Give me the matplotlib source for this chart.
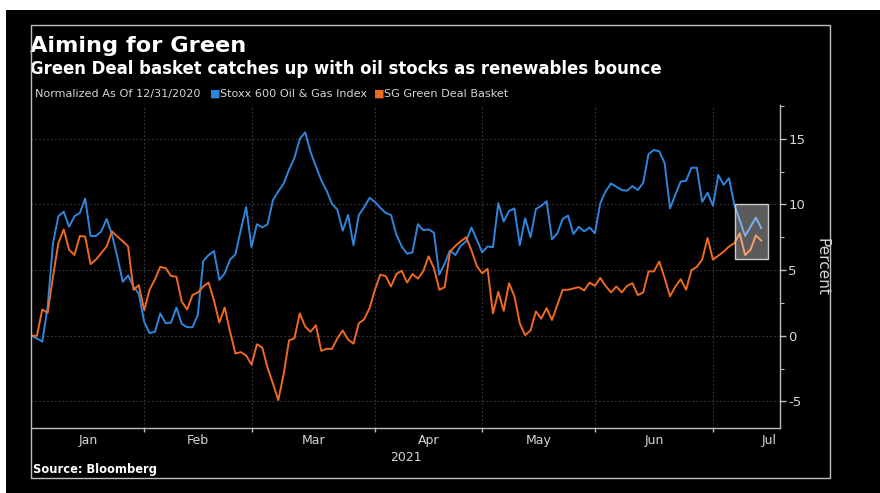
import matplotlib
matplotlib.use('Agg')
import matplotlib.pyplot as plt
from matplotlib.patches import Rectangle
import numpy as np

# ---------------- data (trading days from 12/31/2020) ----------------
stoxx = [0.0, -0.2, -0.45, 2.2, 7.05, 9.1, 9.45, 8.3, 9.1, 9.35,
         10.45, 7.6, 7.6, 7.95, 8.9, 7.7, 6.0, 4.1, 4.6, 3.75,
         3.2, 1.05, 0.2, 0.3, 1.7, 0.95, 1.0, 2.15, 0.9, 0.65,
         0.65, 1.6, 5.7, 6.15, 6.45, 4.25, 4.75, 5.8, 6.2, 8.05,
         9.8, 6.75, 8.5, 8.25, 8.5, 10.35, 11.0, 11.6, 12.65, 13.55,
         15.0, 15.5, 14.0, 12.9, 11.85, 11.05, 10.05, 9.6, 8.0, 9.2,
         6.9, 9.2, 9.8, 10.5, 10.2, 9.75, 9.35, 9.2, 7.7, 6.8,
         6.25, 6.35, 8.5, 8.05, 8.1, 7.85, 4.65, 5.5, 6.5, 6.15,
         6.85, 7.2, 8.25, 7.3, 6.35, 6.8, 6.75, 10.1, 8.7, 9.5,
         9.7, 6.9, 8.95, 7.5, 9.65, 9.9, 10.25, 7.35, 7.8, 8.9,
         9.15, 7.75, 8.3, 7.95, 8.25, 7.8, 10.1, 11.0, 11.6, 11.35,
         11.1, 11.05, 11.4, 11.1, 11.65, 13.85, 14.15, 14.05, 13.15, 9.7,
         10.75, 11.75, 11.8, 12.8, 12.8, 10.2, 10.9, 9.9, 12.25, 11.5,
         12.0, 9.95, 8.8, 7.6, 8.3, 9.0, 8.2]

green = [0.0, 0.0, 2.0, 1.75, 4.5, 7.05, 8.1, 6.55, 6.15, 7.6,
         7.55, 5.45, 5.8, 6.3, 6.8, 7.95, 7.55, 7.2, 6.8, 3.5,
         3.85, 1.95, 3.5, 4.3, 5.25, 5.15, 4.55, 4.5, 2.6, 2.0,
         3.1, 3.3, 3.75, 4.05, 2.7, 1.0, 2.15, 0.3, -1.35, -1.25,
         -1.5, -2.2, -0.65, -0.9, -2.45, -3.65, -4.9, -2.9, -0.35, -0.2,
         1.7, 0.7, 0.3, 0.8, -1.15, -1.0, -1.0, -0.2, 0.4, -0.3,
         -0.6, 0.95, 1.25, 2.1, 3.5, 4.65, 4.55, 3.75, 4.7, 4.95,
         4.05, 4.7, 4.35, 4.9, 6.05, 5.15, 3.5, 3.7, 6.4, 6.85,
         7.2, 7.5, 6.5, 5.3, 4.75, 5.1, 1.7, 3.35, 1.9, 4.0,
         3.0, 0.95, 0.05, 0.4, 1.85, 1.3, 2.1, 1.2, 2.35, 3.5,
         3.5, 3.6, 3.7, 3.45, 4.05, 3.8, 4.4, 3.8, 3.3, 3.75,
         3.3, 3.8, 4.0, 3.1, 3.3, 4.9, 4.9, 5.65, 4.4, 3.0,
         3.75, 4.3, 3.5, 5.0, 5.25, 5.8, 7.45, 5.8, 6.1, 6.4,
         6.8, 7.05, 7.8, 6.15, 6.55, 7.65, 7.25]

month_names = ['Jan', 'Feb', 'Mar', 'Apr', 'May', 'Jun', 'Jul']
month_starts = [0, 21, 41, 64, 84, 105, 127, 148]   # trading-day index of each month start
y_ticks = [-5, 0, 5, 10, 15]
y_minor = [-2.5, 2.5, 7.5, 12.5, 17.5]
highlight_first = 131          # first highlighted trading day
highlight_y = (5.85, 10.0)     # highlight box value range

series_names = ['Stoxx 600 Oil & Gas Index', 'SG Green Deal Basket']
colors = ['#2f86dc', '#ee6a22']

# ---------------- figure ----------------
W, H = 880, 493
fig = plt.figure(figsize=(W / 100, H / 100), dpi=100, facecolor='black')


def fx(px):
    return px / W


def fy(py):
    return 1 - py / H


# white margins at top and left of the screenshot
fig.patches.append(Rectangle((0, fy(10)), 1, 1 - fy(10), transform=fig.transFigure,
                             facecolor='white', edgecolor='none', zorder=-10))
fig.patches.append(Rectangle((0, 0), fx(6), 1, transform=fig.transFigure,
                             facecolor='white', edgecolor='none', zorder=-10))
# inner frame
fig.patches.append(Rectangle((fx(31), fy(478)), fx(830) - fx(31), fy(25) - fy(478),
                             transform=fig.transFigure, facecolor='none',
                             edgecolor='#bdbdbd', lw=1.0, zorder=5))

ax = fig.add_axes([fx(31), fy(428), fx(780) - fx(31), fy(105) - fy(428)])
ax.set_facecolor('none')
ax.set_zorder(2)

x = np.arange(len(stoxx))
ax.plot(x, stoxx, color=colors[0], lw=1.4, zorder=3)
ax.plot(x, green, color=colors[1], lw=1.4, zorder=3)

ax.set_xlim(-0.1, 139.5)
ax.set_ylim(-7.03, 17.58)

# highlight box
ax.add_patch(Rectangle((highlight_first + 0.2, highlight_y[0]),
                       (len(stoxx) - 1 + 1.2) - (highlight_first + 0.2),
                       highlight_y[1] - highlight_y[0],
                       facecolor=(1, 1, 1, 0.36), edgecolor=(0.8, 0.8, 0.8, 1.0),
                       lw=1.0, zorder=4))

# spines
for s in ['top', 'left']:
    ax.spines[s].set_visible(False)
for s in ['right', 'bottom']:
    ax.spines[s].set_color('#bdbdbd')
    ax.spines[s].set_linewidth(1.0)

# y axis on right
ax.yaxis.tick_right()
ax.set_yticks(y_ticks)
ax.set_yticklabels([str(v) for v in y_ticks])
ax.set_yticks(y_minor, minor=True)
ax.tick_params(axis='y', which='major', colors='#bdbdbd', labelcolor='#d6d6d6',
               direction='out', length=4, width=1, labelsize=9.5, pad=2)
ax.tick_params(axis='y', which='minor', colors='#bdbdbd', direction='out',
               length=3, width=0.8)

# x axis: month boundaries as major ticks, labels at month centres
ax.set_xticks(month_starts[1:7])
ax.set_xticklabels([])
mids = [(a + b) / 2 for a, b in zip(month_starts[:-1], month_starts[1:])]
ax.set_xticks(mids, minor=True)
ax.set_xticklabels(month_names, minor=True)
ax.tick_params(axis='x', which='major', colors='#bdbdbd', direction='out',
               length=3, width=1)
ax.tick_params(axis='x', which='minor', length=0, labelcolor='#d6d6d6',
               labelsize=9, pad=4)
ax.set_xlabel('2021', color='#d6d6d6', fontsize=9, labelpad=3)

ax.grid(True, which='major', color='#3a3a3a', linestyle=(0, (1.5, 2)), lw=0.8)
ax.set_axisbelow(True)

# texts
fig.text(fx(30), fy(52), 'Aiming for Green', color='white', fontsize=16.2,
         fontweight='bold', va='baseline', ha='left')
fig.text(fx(30), fy(74), 'Green Deal basket catches up with oil stocks as renewables bounce',
         color='white', fontsize=11.9, fontweight='bold', va='baseline', ha='left')
fig.text(fx(35), fy(97), 'Normalized As Of 12/31/2020', color='#d6d6d6', fontsize=8.1,
         va='baseline', ha='left')
fig.text(fx(210), fy(97), '■', color=colors[0], fontsize=8, va='baseline', ha='left')
fig.text(fx(220), fy(97), series_names[0], color='#d6d6d6', fontsize=8.1,
         va='baseline', ha='left')
fig.text(fx(374), fy(97), '■', color=colors[1], fontsize=8, va='baseline', ha='left')
fig.text(fx(384), fy(97), series_names[1], color='#d6d6d6', fontsize=8.1,
         va='baseline', ha='left')
fig.text(fx(822), fy(267), 'Percent', color='#d6d6d6', fontsize=11, rotation=-90,
         ha='center', va='center')
fig.text(fx(33), fy(473), 'Source: Bloomberg', color='white', fontsize=8.3,
         fontweight='bold', va='baseline', ha='left')

fig.savefig('out.png', dpi=100, facecolor=fig.get_facecolor())
